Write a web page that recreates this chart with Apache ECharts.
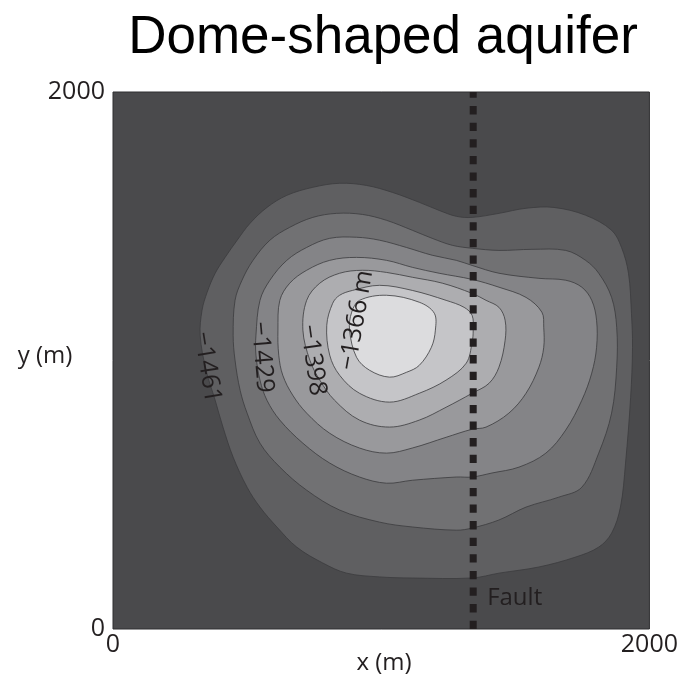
<!DOCTYPE html>
<html>
<head>
<meta charset="utf-8">
<script src="https://cdn.jsdelivr.net/npm/echarts@6/dist/echarts.min.js"></script>
<style>
  html, body { margin: 0; padding: 0; background: #ffffff; }
  #chart { width: 681px; height: 676px; }
</style>
</head>
<body>
<div id="chart"></div>
<script>
// Top-of-aquifer elevation contours (m), outermost to innermost
const contourLevels = [-1461, -1445, -1429, -1414, -1398, -1382, -1366];

// Closed contour outlines, [x (m), y (m)]
const contour1461 = [
  [325, 1094], [332, 1187], [351, 1254], [381, 1325], [418, 1384], [463, 1448],
  [511, 1511], [574, 1570], [648, 1615], [745, 1645], [845, 1660], [945, 1652],
  [1042, 1626], [1142, 1589], [1216, 1559], [1280, 1537], [1339, 1533], [1439, 1548],
  [1540, 1567], [1644, 1570], [1762, 1541], [1859, 1485], [1896, 1421], [1922, 1325],
  [1933, 1176], [1937, 1049], [1930, 863], [1911, 618], [1892, 454], [1859, 357],
  [1811, 305], [1725, 268], [1588, 231], [1439, 208], [1339, 190], [1116, 190],
  [994, 194], [871, 208], [782, 246], [685, 305], [611, 380], [548, 454],
  [500, 528], [448, 640], [410, 752], [381, 852], [347, 964]
];
const contour1445 = [
  [448, 1094], [455, 1224], [481, 1299], [522, 1373], [585, 1448], [659, 1496],
  [745, 1533], [834, 1548], [930, 1544], [1020, 1522], [1116, 1485], [1190, 1455],
  [1265, 1429], [1339, 1418], [1439, 1410], [1562, 1414], [1688, 1410], [1762, 1373],
  [1811, 1325], [1859, 1235], [1878, 1124], [1878, 975], [1859, 804], [1811, 655],
  [1748, 528], [1662, 491], [1540, 454], [1439, 406], [1339, 376], [1280, 368],
  [1116, 380], [994, 398], [845, 443], [722, 517], [622, 603], [548, 692],
  [500, 804], [474, 889], [455, 1001]
];
const contour1429 = [
  [533, 1094], [548, 1224], [585, 1299], [648, 1373], [722, 1421], [808, 1455],
  [908, 1459], [994, 1448], [1094, 1421], [1190, 1392], [1280, 1373], [1339, 1354],
  [1439, 1325], [1588, 1306], [1688, 1299], [1748, 1273], [1785, 1224], [1803, 1150],
  [1803, 1049], [1785, 953], [1748, 852], [1688, 741], [1614, 655], [1514, 603],
  [1413, 581], [1339, 566], [1280, 566], [1116, 554], [1020, 543], [919, 566],
  [808, 618], [708, 692], [622, 778], [574, 852], [548, 927], [533, 1020]
];
const contour1414 = [
  [615, 1113], [622, 1224], [659, 1288], [722, 1336], [808, 1373], [908, 1384],
  [1020, 1373], [1116, 1347], [1216, 1325], [1339, 1302], [1439, 1273], [1540, 1235],
  [1599, 1180], [1606, 1124], [1606, 1049], [1588, 975], [1540, 878], [1476, 804],
  [1391, 752], [1339, 744], [1242, 714], [1116, 674], [1020, 655], [919, 674],
  [808, 729], [722, 804], [670, 871], [633, 945], [618, 1020]
];
const contour1398 = [
  [708, 1113], [722, 1224], [771, 1288], [845, 1325], [930, 1336], [1020, 1328],
  [1116, 1310], [1228, 1288], [1339, 1250], [1391, 1224], [1439, 1198], [1462, 1150],
  [1462, 1075], [1439, 975], [1402, 915], [1339, 878], [1242, 826], [1142, 778],
  [1031, 752], [919, 778], [826, 852], [771, 927], [734, 1001]
];
const contour1382 = [
  [797, 1131], [819, 1213], [845, 1243], [893, 1261], [994, 1280], [1116, 1261],
  [1242, 1224], [1309, 1198], [1339, 1168], [1343, 1113], [1339, 1068], [1317, 990],
  [1242, 927], [1142, 878], [1031, 845], [919, 878], [845, 945], [808, 1020]
];
const contour1366 = [
  [882, 1113], [890, 1180], [919, 1224], [1020, 1243], [1142, 1217], [1198, 1176],
  [1202, 1113], [1187, 1049], [1142, 982], [1094, 956], [1031, 938], [956, 964],
  [908, 1012]
];
const contourOutlines = [contour1461, contour1445, contour1429, contour1414,
                         contour1398, contour1382, contour1366];

// Labelled contours and the fault annotation
const labelTexts = ['\u22121461', '\u22121429', '\u22121398', '\u22121366 m', 'Fault'];

// Fault trace position (m)
const faultX = 1343;
const faultTrace = [[faultX, 0], [faultX, 2000]];

// Axis range and ticks
const axisMin = 0;
const axisMax = 2000;

// ---- styling (not data) ----
const bandFills = ['#4a4a4c', '#5f5f61', '#717173', '#848487', '#99999c', '#adadb0', '#c5c5c8', '#dcdcde'];
// label anchors [x, y] in axis units, rotation in degrees, text alignment
const labelSpots = [
  { at: [351, 975], rot: -81, align: 'center' },
  { at: [555, 1012], rot: -85, align: 'center' },
  { at: [745, 1001], rot: -82, align: 'center' },
  { at: [908, 1150], rot: 80, align: 'center' },
  { at: [1395, 115], rot: 0, align: 'left' }
];
const textFont = '"Open Sans", "Noto Sans", sans-serif';
const inkColor = '#231f20';

const chart = echarts.init(document.getElementById('chart'), null, { renderer: 'canvas' });

function renderContour(params, api) {
  const i = params.dataIndex;
  const pts = contourOutlines[i].map(p => api.coord(p));
  return {
    type: 'polygon',
    shape: { points: pts, smooth: 0.35 },
    style: { fill: bandFills[i + 1], stroke: '#3b3b3d', lineWidth: 0.8 }
  };
}

function renderLabel(params, api) {
  const i = params.dataIndex;
  const spot = labelSpots[i];
  const p = api.coord(spot.at);
  return {
    type: 'text',
    x: p[0],
    y: p[1],
    rotation: spot.rot * Math.PI / 180,
    style: {
      text: labelTexts[i],
      fontFamily: textFont,
      fontSize: i === 4 ? 24 : 25,
      fill: inkColor,
      align: spot.align,
      verticalAlign: 'middle'
    }
  };
}

const tickLabel = v => String(v);

const option = {
  backgroundColor: '#ffffff',
  animation: false,
  grid: {
    left: 113, top: 92, width: 538, height: 537,
    show: true, backgroundColor: bandFills[0],
    borderColor: '#2e2e30', borderWidth: 1
  },
  xAxis: {
    type: 'value', min: axisMin, max: axisMax, interval: axisMax - axisMin,
    axisLine: { show: false }, axisTick: { show: false }, splitLine: { show: false },
    axisLabel: { fontFamily: textFont, fontSize: 25, color: inkColor, margin: 3, formatter: tickLabel }
  },
  yAxis: {
    type: 'value', min: axisMin, max: axisMax, interval: axisMax - axisMin,
    axisLine: { show: false }, axisTick: { show: false }, splitLine: { show: false },
    axisLabel: { fontFamily: textFont, fontSize: 25, color: inkColor, margin: 8, formatter: tickLabel }
  },
  graphic: [
    { type: 'text', x: 383, y: 38,
      style: { text: 'Dome-shaped aquifer', fontFamily: '"Liberation Sans", Arial, sans-serif',
               fontSize: 53, fill: '#000000', align: 'center', verticalAlign: 'middle' } },
    { type: 'text', x: 45, y: 356,
      style: { text: 'y (m)', fontFamily: textFont, fontSize: 24, fill: inkColor,
               align: 'center', verticalAlign: 'middle' } },
    { type: 'text', x: 384, y: 663,
      style: { text: 'x (m)', fontFamily: textFont, fontSize: 24, fill: inkColor,
               align: 'center', verticalAlign: 'middle' } }
  ],
  series: [
    {
      type: 'custom',
      coordinateSystem: 'cartesian2d',
      renderItem: renderContour,
      data: contourLevels.map((lv, i) => ({ name: String(lv), value: contourOutlines[i][0] })),
      silent: true,
      z: 2
    },
    {
      type: 'line',
      data: faultTrace,
      symbol: 'none',
      lineStyle: { color: inkColor, width: 7, type: [8.3, 8.3], cap: 'butt' },
      silent: true,
      z: 3
    },
    {
      type: 'custom',
      coordinateSystem: 'cartesian2d',
      renderItem: renderLabel,
      data: labelSpots.map(s => s.at),
      silent: true,
      z: 4
    }
  ]
};

chart.setOption(option);
</script>
</body>
</html>
